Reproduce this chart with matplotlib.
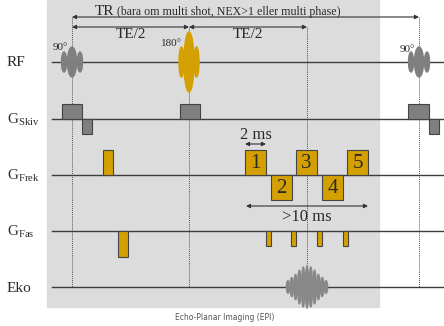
import numpy as np
import matplotlib.pyplot as plt
from matplotlib.patches import Ellipse, Rectangle

plt.rcParams['mathtext.fontset'] = 'custom'
plt.rcParams['mathtext.rm'] = 'Liberation Serif'
SERIF = 'Liberation Serif'

# channel names and baselines (timeline runs left to right)
channel_labels = ['RF', r'$\mathrm{G}_{\mathrm{Skiv}}$', r'$\mathrm{G}_{\mathrm{Frek}}$',
                  r'$\mathrm{G}_{\mathrm{Fas}}$', 'Eko']
channel_y = [62, 119, 175, 231, 287]

# event times
t_90 = [72, 419]
t_180 = 189
t_echo = 307

# slice gradient lobes: start, end, amplitude
skiv_lobes = [(62, 82, 15), (82, 92, -15), (180, 200, 15), (408, 429, 15), (429, 439, -15)]
# frequency gradient: prephaser and EPI readout train
frek_prephase = (103, 113, 25)
readout_start = [245, 271, 296, 322, 347]
readout_sign = [1, -1, 1, -1, 1]
readout_labels = ['1', '2', '3', '4', '5']
# phase gradient: prephaser and blips
fas_prephase = (118, 128, -26)
blip_start = [266, 291, 317, 343]
# echo envelope (relative lobe heights)
echo_amp = [0.3, 0.45, 0.6, 0.8, 0.95, 1.0, 0.95, 0.8, 0.6, 0.45, 0.3]

GOLD = '#D49F00'
GREY = '#7F7F7F'
LINE = '#3c3c3c'
TXT = '#2a2a2a'

fig = plt.figure(figsize=(4.44, 3.26), dpi=100)
ax = fig.add_axes([0, 0, 1, 1])
ax.set_xlim(0, 444)
ax.set_ylim(326, 0)
ax.axis('off')

ax.add_patch(Rectangle((47, 0), 332, 307, color='#DCDCDC', zorder=0))

# baselines and labels
for lab, y in zip(channel_labels, channel_y):
    ax.plot([52, 444], [y, y], color=LINE, lw=1, zorder=2)
    ax.text(7, y + 1, lab, fontsize=11, family=SERIF, va='center', ha='left', color=TXT)

# dotted timing markers
for x, top in [(t_90[0], 17), (t_180, 27), (t_echo, 27), (t_90[1], 17)]:
    ax.plot([x, x], [top, channel_y[4]], ls=(0, (1, 1)), color='#555', lw=0.7, zorder=1)


def arrow(x0, x1, y):
    ax.annotate('', xy=(x1, y), xytext=(x0, y),
                arrowprops=dict(arrowstyle='<|-|>', color='#333', lw=0.8,
                                mutation_scale=6, shrinkA=0, shrinkB=0))


arrow(t_90[0], t_90[1], 17)
arrow(t_90[0], t_180, 27)
arrow(t_180, t_echo, 27)
ax.text(95, 15, 'TR', fontsize=11, family=SERIF, color=TXT)
ax.text(117, 15, '(bara om multi shot, NEX>1 eller multi phase)', fontsize=8.6,
        family=SERIF, color=TXT)
ax.text((t_90[0] + t_180) / 2, 35, 'TE/2', fontsize=11, family=SERIF, ha='center',
        va='center', color=TXT)
ax.text((t_180 + t_echo) / 2, 35, 'TE/2', fontsize=11, family=SERIF, ha='center',
        va='center', color=TXT)


def sinc_pulse(x, y, h, w, side_h, side_w, side_dx, color):
    ax.add_patch(Ellipse((x, y), w, 2 * h, color=color, zorder=3))
    for dx in (-side_dx, side_dx):
        ax.add_patch(Ellipse((x + dx, y), side_w, 2 * side_h, color=color, zorder=3))


rf_y = channel_y[0]
for t in t_90:
    sinc_pulse(t, rf_y, 15, 9, 10, 5, 8, GREY)
sinc_pulse(t_180, rf_y, 30, 10, 15, 5, 7.5, GOLD)
ax.text(60, 48, '90°', fontsize=8, family=SERIF, ha='center', va='center', color=TXT)
ax.text(407, 49, '90°', fontsize=8, family=SERIF, ha='center', va='center', color=TXT)
ax.text(171, 43, '180°', fontsize=8, family=SERIF, ha='center', va='center', color=TXT)


def lobe(x0, x1, amp, y, color):
    ax.add_patch(Rectangle((x0, y), x1 - x0, -amp, facecolor=color,
                           edgecolor='#444', lw=0.8, zorder=3))


for x0, x1, a in skiv_lobes:
    lobe(x0, x1, a, channel_y[1], GREY)

lobe(*frek_prephase, channel_y[2], GOLD)
for x0, s, lab in zip(readout_start, readout_sign, readout_labels):
    lobe(x0, x0 + 21, 25 * s, channel_y[2], GOLD)
    ax.text(x0 + 10.5, channel_y[2] - 12.5 * s + 1, lab, fontsize=15, family=SERIF,
            ha='center', va='center', color=TXT, zorder=4)

lobe(*fas_prephase, channel_y[3], GOLD)
for x0 in blip_start:
    lobe(x0, x0 + 5, -15, channel_y[3], GOLD)

arrow(readout_start[0], readout_start[0] + 21, 144)
ax.text(readout_start[0] + 10.5, 135, '2 ms', fontsize=12, family=SERIF, ha='center',
        va='center', color=TXT)
arrow(readout_start[0] + 1, readout_start[-1] + 21, 206)
ax.text(t_echo, 217, '>10 ms', fontsize=12, family=SERIF, ha='center', va='center', color=TXT)

# echo signal
n = len(echo_amp)
for i, a in enumerate(echo_amp):
    x = t_echo + (i - (n - 1) / 2) * 3.8
    ax.add_patch(Ellipse((x, channel_y[4]), 3.2, 42 * a, color='#888', zorder=3))

fig.text(0.505, 1 - 317 / 326, 'Echo-Planar Imaging (EPI)', fontsize=5.5, color='#555',
         ha='center', va='center')

fig.savefig('out.png', dpi=100)
